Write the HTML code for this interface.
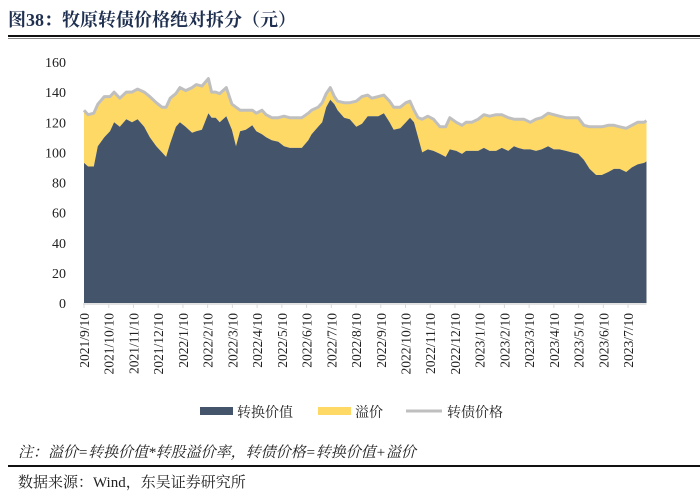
<!DOCTYPE html>
<html><head><meta charset="utf-8"><style>
body{margin:0;background:#fff;width:700px;height:497px;overflow:hidden;position:relative;font-family:"Liberation Serif","Noto Serif CJK SC",serif;}
.t{position:absolute;white-space:nowrap;}
</style></head><body>
<div class="t" style="left:8px;top:6px;font-size:18px;font-weight:bold;color:#1f2f4f;font-family:'Liberation Serif','Noto Serif CJK SC',serif;">图38：牧原转债价格绝对拆分（元）</div>
<div style="position:absolute;left:8px;top:35px;width:692px;height:2px;background:#111;"></div>
<div style="position:absolute;left:8px;top:38px;width:692px;height:1px;background:#888;"></div>
<svg id="chart" width="700" height="430" style="position:absolute;left:0;top:0;"></svg>
<div class="t" style="left:18px;top:441px;font-size:15px;font-style:italic;color:#222;">注：溢价=转换价值*转股溢价率，转债价格=转换价值+溢价</div>
<div style="position:absolute;left:8px;top:465px;width:692px;height:2px;background:#111;"></div>
<div class="t" style="left:18px;top:471px;font-size:15px;color:#222;">数据来源：Wind，东吴证券研究所</div>
<script>
const days=[0,5,12,17,25,32,37,44,52,59,66,74,81,89,96,101,106,113,118,125,133,138,145,153,157,162,167,175,182,187,192,199,207,212,219,224,231,239,246,253,261,268,276,280,288,293,298,303,308,312,320,327,335,342,349,354,362,369,376,381,389,396,401,406,411,416,423,430,438,445,450,458,465,470,477,485,492,499,507,514,522,529,534,541,549,556,563,571,578,585,593,600,608,615,622,630,637,645,652,659,667,674,681,689,692];
const convValue=[93,90.6,90.6,104,110,114,120,117,122,120,122,117,110,104,100,97,106,117,120,117,113,114,115,126,123,123,120,124,115,104,114,115,118,114,112,110,108,107,104,103,103,103,108,112,117,120,130,135,132,128,123,122,117,119,124,124,124,126,120,115,116,120,123,120,110,100,102,101,99,97,102,101,99,101,101,101,103,101,101,103,101,104,103,102,102,101,102,104,102,102,101,100,99,95,89,85,85,87,89,89,87,90,92,93,94];
const price=[128,125,126,132,137,137,140,136,140,140,142,140,137,133,130,130,136,139,143,141,143,145,144,149,140,140,139,143,132,130,128,128,128,126,128,125,123,123,124,123,123,123,126,128,130,133,139,143,137,134,133,133,134,137,138,136,137,138,134,130,130,133,134,128,123,122,124,122,117,117,123,120,118,120,120,122,125,124,125,125,123,122,122,122,120,122,123,126,125,124,123,123,123,118,117,117,117,118,118,117,116,118,120,120,121];
const yTicks=[0,20,40,60,80,100,120,140,160];
const xLabels=["2021/9/10","2021/10/10","2021/11/10","2021/12/10","2022/1/10","2022/2/10","2022/3/10","2022/4/10","2022/5/10","2022/6/10","2022/7/10","2022/8/10","2022/9/10","2022/10/10","2022/11/10","2022/12/10","2023/1/10","2023/2/10","2023/3/10","2023/4/10","2023/5/10","2023/6/10","2023/7/10"];
const svg=document.getElementById('chart');const NS='http://www.w3.org/2000/svg';
const X0=84,X1=646.5,Y0=303,Y1=62;
const N=Math.min(days.length,convValue.length,price.length);
const lastDay=days[N-1];
const xS=d=>X0+d/692*(X1-X0);
const yS=v=>Y0-v/160*(Y0-Y1);
function mk(t,a){const e=document.createElementNS(NS,t);for(const k in a)e.setAttribute(k,a[k]);svg.appendChild(e);return e;}
const idx=[...Array(N).keys()];
const priceTop=idx.map(i=>xS(days[i]).toFixed(1)+','+yS(price[i]).toFixed(1));
const convPts=idx.map(i=>xS(days[i]).toFixed(1)+','+yS(convValue[i]).toFixed(1));
const p=mk('polygon',{points:priceTop.concat(convPts.slice().reverse()).join(' '),fill:'#ffd966'});


const c=mk('polygon',{points:convPts.join(' ')+' '+xS(lastDay)+','+Y0+' '+X0+','+Y0,fill:'#44546a'});


const l=mk('polyline',{points:priceTop.join(' '),fill:'none',stroke:'#bfbfbf','stroke-width':3,'stroke-linejoin':'round'});


const ax=mk('line',{x1:X0-1,y1:Y0+1,x2:X1,y2:Y0+1,stroke:'#d9d9d9','stroke-width':1.5});


yTicks.forEach(v=>{const t=mk('text',{x:66,y:yS(v)+5,'text-anchor':'end','font-size':14,fill:'#222','font-family':'Liberation Serif,serif'});t.textContent=v;

});
xLabels.forEach((s,i)=>{const x=X0+i*24.73;
const tk=mk('line',{x1:x,y1:Y0+1,x2:x,y2:Y0+5,stroke:'#d9d9d9'});


const t=mk('text',{x:0,y:0,'text-anchor':'end','font-size':13.5,fill:'#222','font-family':'Liberation Serif,serif',transform:'translate('+(x+5)+','+(Y0+10)+') rotate(-90)'});t.textContent=s;

});
const lg=[['#44546a','转换价值',200,'rect'],['#ffd966','溢价',318,'rect'],['#bfbfbf','转债价格',406,'line']];
lg.forEach(g=>{let m;if(g[3]==='rect')m=mk('rect',{x:g[2],y:407,width:33,height:8,fill:g[0]});else m=mk('line',{x1:g[2],y1:411,x2:g[2]+36,y2:411,stroke:g[0],'stroke-width':3});


const t=mk('text',{x:g[2]+(g[3]==='rect'?37:41),y:417,'font-size':14,fill:'#222','font-family':'Liberation Serif,Noto Serif CJK SC,serif'});t.textContent=g[1];

});
</script>
</body></html>
